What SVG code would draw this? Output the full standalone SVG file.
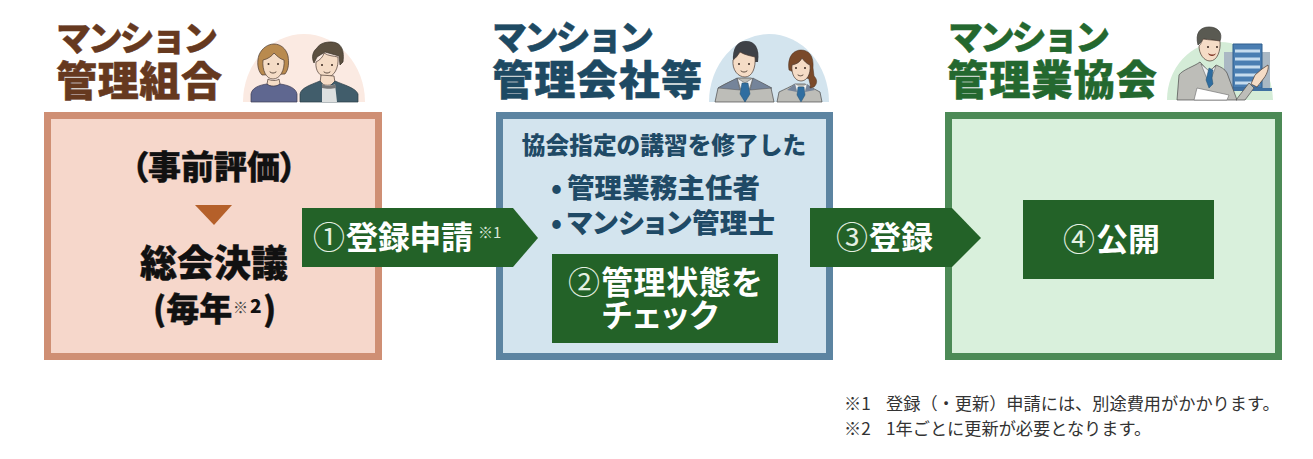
<svg xmlns="http://www.w3.org/2000/svg" width="1313" height="459" viewBox="0 0 1313 459">
<style>
text{font-family:"Noto Sans CJK JP","Noto Sans",sans-serif;font-weight:900;font-feature-settings:"palt"}
.t1{font-size:35px;font-feature-settings:normal;stroke-width:.4}
.t2{font-size:41px;font-feature-settings:normal;stroke-width:.5}
.br{fill:#66391f;stroke:#66391f}.bl{fill:#1e4a63;stroke:#1e4a63}.gr{fill:#24682f;stroke:#24682f}
.b{fill:#111;stroke:#111;stroke-width:.4}
.w{fill:#fff;font-size:32px;font-weight:700}
.c{fill:#e4f0e2;font-size:32px;font-weight:400;font-feature-settings:normal}
.n{fill:#1f4a66;font-size:27.500px}
.note{fill:#333;font-size:17.200px;font-weight:400;font-feature-settings:normal}
.box{stroke-width:7}
.ar{fill:#236228}
.sk{fill:#f5dcc6;stroke:#4a3a30;stroke-width:.7}
.l{fill:none;stroke:#3a2a20;stroke-width:.8;stroke-linecap:round}
.e{fill:#3a2a20}
.suit{fill:#bdbdb8;stroke:#4a4a4a;stroke-width:.7}
.tie{fill:#2f6da0;stroke:#27506f;stroke-width:.5}
</style>
<rect width="1313" height="459" fill="#fff"/>

<g id="node-kumiai">
<text class="t1 br" x="56" y="51" textLength="162" lengthAdjust="spacing">マンション</text>
<text class="t2 br" x="56" y="96" textLength="166" lengthAdjust="spacing">管理組合</text>
<path d="M243 102a61 68 0 0 1 122 0z" fill="#fbeae2"/>
<path d="M262 75c-5-5-5-14-3-20 3-7 9-11 15-11s12 4 14 12c1 6 1 13-3 18z" fill="#b98a4e" stroke="#4a3a30" stroke-width=".7"/>
<path d="M263 60c5-1 9-4 11-7 3 3 6 6 10 7 1 10-4 19-11 19s-11-9-10-19z" class="sk"/>
<path d="M268 79c3 2 9 2 11 0l1 5c-3 3-10 3-13 0z" class="sk"/>
<circle class="e" cx="268.500" cy="64" r="1"/><circle class="e" cx="278" cy="64" r="1"/>
<path class="l" d="M270 72c2 1.500 4 1.500 6 0"/>
<path d="M251 102v-8c1-6 8-9 16-10 3 3 9 3 13 0 8 1 16 4 17 10v8z" fill="#5f6790" stroke="#3c3c55" stroke-width=".7"/>
<path d="M314 63c-3-6-1-12 3-15 3-5 9-6 14-6 8 0 14 5 12 20l-3 3-1-9-14-4-8 5z" fill="#5c5040" stroke="#3a3228" stroke-width=".7"/>
<path d="M316 62c4-2 7-5 8-9 4 3 10 3 14 4 1 11-4 20-11 20s-12-6-11-15z" class="sk"/>
<path d="M321 75l13 1 1 7c-4 3-11 3-15 0z" class="sk"/>
<circle class="e" cx="322" cy="65" r="1"/><circle class="e" cx="332" cy="65" r="1"/>
<path class="l" d="M324 72c2 1.500 4 1.500 6 0"/>
<path d="M300 102v-8c1-6 10-9 20-13l7 8 8-8c9 4 21 7 23 13v8z" fill="#415d6b" stroke="#2a3c46" stroke-width=".7"/>
<path d="M322 102v-18c4 2 10 2 13 0l2 18z" fill="#dde0e0"/>
<path d="M322 84c4 2 10 2 13 0l1 4c-4 1-10 1-14 0z" fill="#777"/>
<rect class="box" x="47.500" y="115.500" width="331" height="241" fill="#f6d7cb" stroke="#cf8f74"/>
<text class="b" x="214" y="179" text-anchor="middle" style="font-size:33px">（事前評価）</text>
<path d="M195 205h37l-18 20z" fill="#b5602a"/>
<text class="b" x="214" y="277" text-anchor="middle" style="font-size:37px;font-feature-settings:normal">総会決議</text>
<text class="b" x="153" y="321" style="font-size:33px">(毎年</text>
<text x="233" y="313" style="font-size:15px;fill:#444;font-weight:400;font-feature-settings:normal">※</text>
<text x="250" y="313" style="font-size:19px;fill:#111">2</text>
<text class="b" x="263" y="321" style="font-size:33px">)</text>
</g>

<g id="node-kanri">
<text class="t1 bl" x="492" y="50" textLength="162" lengthAdjust="spacing">マンション</text>
<text class="t2 bl" x="492" y="95" textLength="210" lengthAdjust="spacing">管理会社等</text>
<path d="M709 102a60 68 0 0 1 120 0z" fill="#d3e4ee"/>
<path d="M715 102l3-14c8-5 14-7 20-10h13c6 3 12 5 20 10l3 14z" class="suit"/>
<path d="M737 78l8 24 8-24-8 5z" fill="#eef0f2" stroke="#555" stroke-width=".5"/>
<path d="M742 83h6l2 11-5 8-5-8z" class="tie"/>
<path d="M718 88l19-10 3 12zM772 88l-19-10-3 12z" fill="#75849a" stroke="#555" stroke-width=".5"/>
<path d="M733 62c-1-14 4-21 13-21 9 0 14 7 12 21z" fill="#3e4147"/>
<path d="M733 60c3-2 5-5 7-8 5 3 11 4 15 5 1 11-3 20-10 20s-13-7-12-17z" class="sk"/>
<circle class="e" cx="739" cy="64" r="1"/><circle class="e" cx="749" cy="64" r="1"/>
<path class="l" d="M741 71c2 1.500 4 1.500 6 0"/>
<path d="M777 102l2-10c6-3 11-5 16-8h10c5 3 10 5 15 8l2 10z" class="suit"/>
<path d="M795 84l6 18 6-18-6 4z" fill="#eef0f2"/>
<path d="M798 87h6l1 8-4 7-4-7z" class="tie"/>
<path d="M787 90l8-6 2 8zM815 90l-8-6-2 8z" fill="#75849a"/>
<path d="M789 70c-2-14 5-20 12-20 8 0 13 6 12 18l1 8c3 3 4 7 0 11l-4 1c1-4-1-6-1-9z" fill="#7a4a2a" stroke="#4a3020" stroke-width=".5"/>
<path d="M792 65c5-1 8-3 10-7 2 3 5 6 8 7 1 9-3 16-9 16s-10-7-9-16z" class="sk"/>
<circle class="e" cx="796" cy="68" r="1"/><circle class="e" cx="805" cy="68" r="1"/>
<path class="l" d="M798 75c2 1.200 3 1.200 5 0"/>
<rect class="box" x="499.500" y="115.500" width="330" height="241" fill="#d3e4ee" stroke="#5c84a1"/>
<text class="n" x="664" y="154" text-anchor="middle" style="font-size:23.700px;font-feature-settings:normal">協会指定の講習を修了した</text>
<text class="n" x="551" y="198">•</text>
<text class="n" x="567" y="198" textLength="193" lengthAdjust="spacing">管理業務主任者</text>
<text class="n" x="551" y="233">•</text>
<text class="n" x="567" y="233" textLength="208" lengthAdjust="spacing">マンション管理士</text>
<rect x="552" y="254" width="226" height="89" fill="#236228"/>
<text class="c" x="568" y="294">②</text>
<text class="w" x="601" y="294" textLength="161" lengthAdjust="spacing">管理状態を</text>
<text class="w" x="602" y="327" textLength="116" lengthAdjust="spacing">チェック</text>
</g>

<g id="node-kyokai">
<text class="t1 gr" x="948" y="50" textLength="162" lengthAdjust="spacing">マンション</text>
<text class="t2 gr" x="947" y="95" textLength="210" lengthAdjust="spacing">管理業協会</text>
<path d="M1167 100a53 58 0 0 1 106 0z" fill="#d4ecd7"/>
<path d="M1224 52h46v36h-46z" fill="#aab8c4"/>
<path d="M1233 44h29v44h-29z" fill="#4a7eb2" stroke="#2e5f8e"/>
<path d="M1232 88h40v3h-40z" fill="#3f70a2"/>
<path d="M1235 51h25M1235 59h25M1235 67h25M1235 75h25M1235 83h25" stroke="#c6dcee" stroke-width="3"/>
<path d="M1177 100l2-25c3-5 16-9 21-13l9 10 7-7c5 2 9 4 11 8l10 27z" class="suit"/>
<path d="M1201 64l8 20 7-18-7 5z" fill="#eef0f2" stroke="#555" stroke-width=".5"/>
<path d="M1209 68l4 2-1 8 1 6-4 4-3-8z" class="tie"/>
<path d="M1197 88l32 7-2 5h-33z" fill="#fff" stroke="#777" stroke-width=".7"/>
<path d="M1198 45c-3-12 2-18 11-18 9 0 14 6 11 14l-16-2z" fill="#5a5a52" stroke="#3a3a35" stroke-width=".7"/>
<path d="M1199 46c2-2 3-5 4-7 6 1 12 1 17 2 1 10-3 20-10 20-6 0-11-7-11-15z" class="sk"/>
<circle class="e" cx="1208" cy="47" r="1"/><circle class="e" cx="1217" cy="47" r="1"/>
<path d="M1208 53c3 2 6 2 8 0-1 4-7 4-8 0z" fill="#7a3020"/>
<path d="M1236 100l13-17 5 5-9 12z" class="suit"/>
<path d="M1251 84l4-9 7-6 6-4c1 3-1 9-4 13l-7 9z" class="sk"/>
<rect class="box" x="948.500" y="115.500" width="330" height="241" fill="#d9f0dc" stroke="#4c8a56"/>
<rect x="1023" y="200" width="191" height="79" fill="#236228"/>
<text class="c" x="1063" y="251">④</text>
<text class="w" x="1096" y="251" textLength="64" lengthAdjust="spacing">公開</text>
</g>

<g id="connectors">
<path class="ar" d="M302 208H513L538 238 513 267H302z"/>
<text class="c" x="313" y="249">①</text>
<text class="w" x="346" y="249" textLength="127" lengthAdjust="spacing">登録申請</text>
<text x="478" y="238" style="font-size:15px;fill:#d8e8d8;font-weight:400;font-feature-settings:normal">※1</text>
<path class="ar" d="M810 208h142l29 30-29 29H810z"/>
<text class="c" x="836" y="249">③</text>
<text class="w" x="869" y="249" textLength="64" lengthAdjust="spacing">登録</text>
</g>

<g id="notes">
<text class="note" x="844" y="410">※1</text>
<text class="note" x="886" y="410">登録（・更新）申請には、別途費用がかかります。</text>
<text class="note" x="844" y="435">※2</text>
<text class="note" x="886" y="435">1年ごとに更新が必要となります。</text>
</g>
</svg>
